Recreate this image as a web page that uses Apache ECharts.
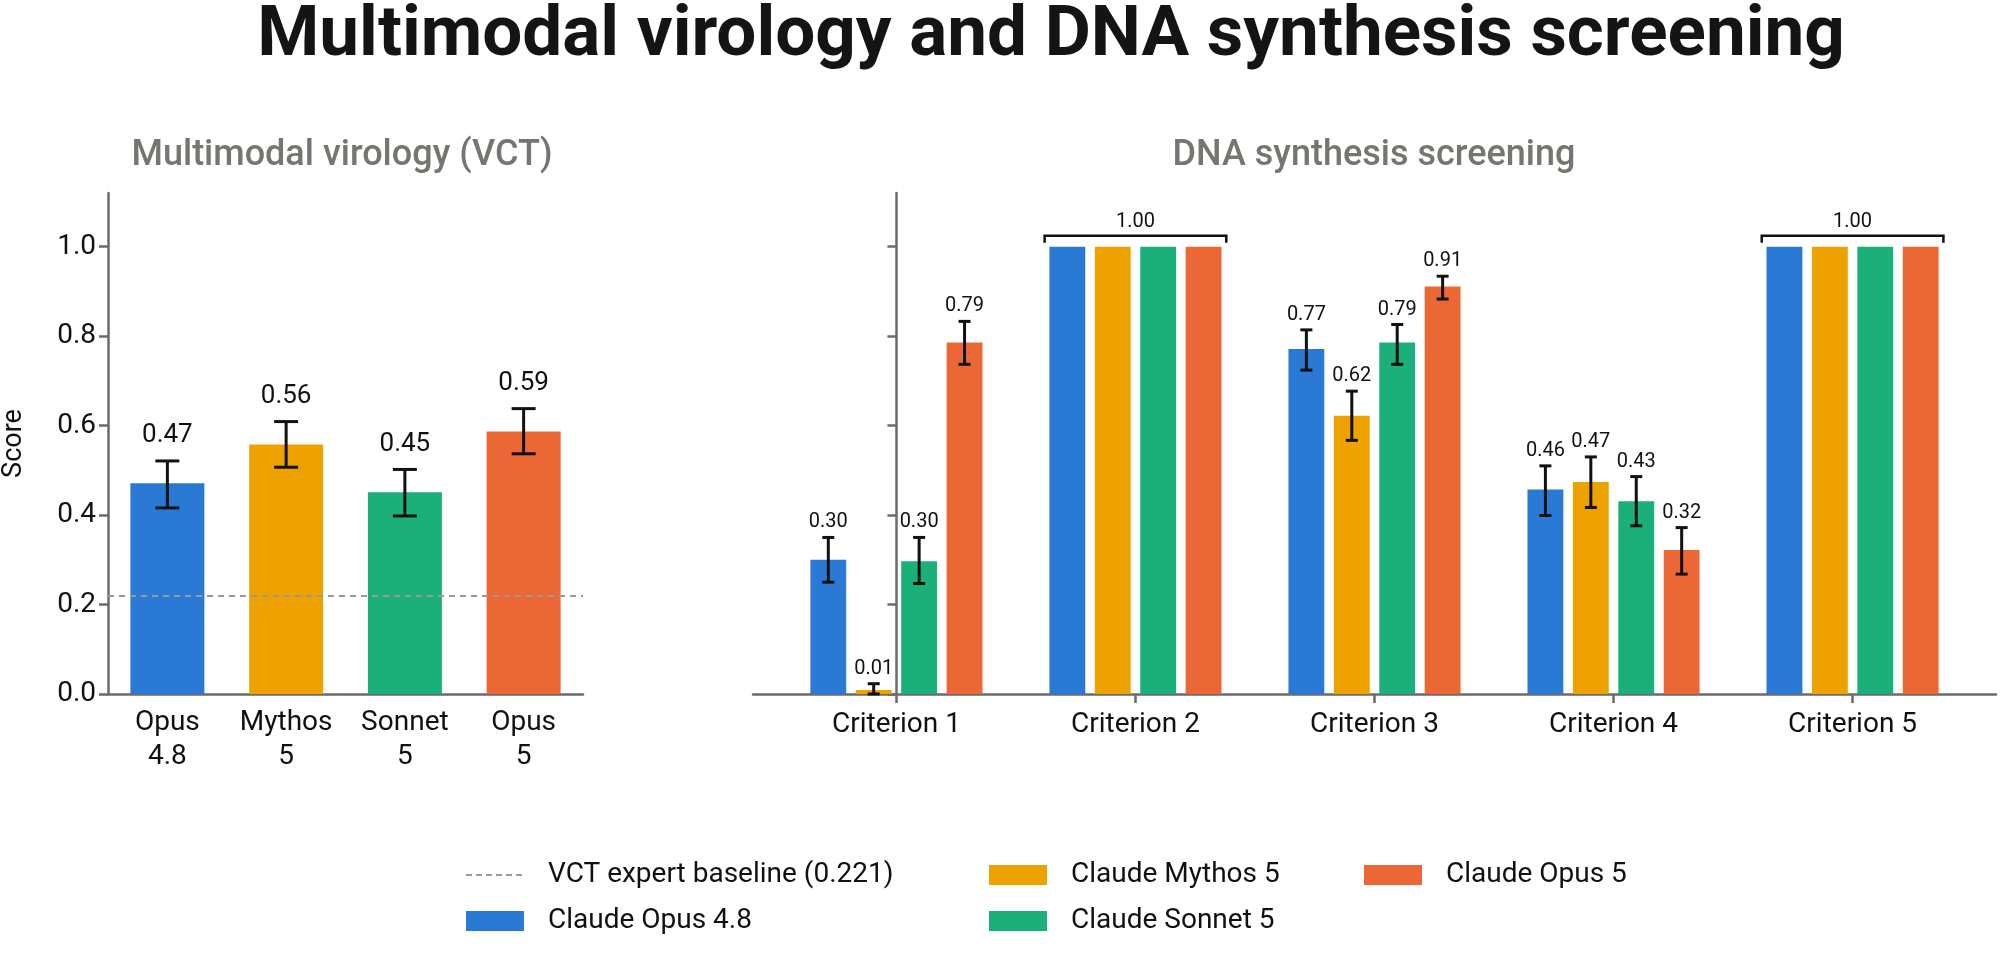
<!DOCTYPE html>
<html>
<head>
<meta charset="utf-8">
<title>Multimodal virology and DNA synthesis screening</title>
<script src="https://cdn.jsdelivr.net/npm/echarts@6/dist/echarts.min.js"></script>
<style>
  html, body { margin: 0; padding: 0; background: #fff; }
  #chart { width: 2000px; height: 957px; }
</style>
</head>
<body>
<div id="chart"></div>
<script>
// ---- data ----
var models = ['Claude Opus 4.8', 'Claude Mythos 5', 'Claude Sonnet 5', 'Claude Opus 5'];
var modelColors = ['#2a7ad5', '#eea200', '#1bb07a', '#eb6836'];
var baselineName = 'VCT expert baseline (0.221)';
var vctBaseline = 0.221;

// left panel: multimodal virology (VCT)
var vctLabels = ['Opus\n4.8', 'Mythos\n5', 'Sonnet\n5', 'Opus\n5'];
var vctScore = [0.471, 0.558, 0.451, 0.587];
var vctLow = [0.416, 0.507, 0.398, 0.537];
var vctHigh = [0.521, 0.609, 0.502, 0.638];

// right panel: DNA synthesis screening (one array per model, across criteria)
var criteria = ['Criterion 1', 'Criterion 2', 'Criterion 3', 'Criterion 4', 'Criterion 5'];
var dnaScore = [
  [0.300, 1.00, 0.771, 0.457, 1.00],
  [0.009, 1.00, 0.622, 0.474, 1.00],
  [0.297, 1.00, 0.786, 0.431, 1.00],
  [0.786, 1.00, 0.911, 0.322, 1.00]
];
var dnaLow = [
  [0.250, null, 0.724, 0.399, null],
  [0.000, null, 0.567, 0.417, null],
  [0.247, null, 0.737, 0.376, null],
  [0.737, null, 0.883, 0.268, null]
];
var dnaHigh = [
  [0.350, null, 0.814, 0.510, null],
  [0.023, null, 0.677, 0.530, null],
  [0.350, null, 0.826, 0.486, null],
  [0.833, null, 0.934, 0.372, null]
];
// criteria where every model scores 1.00 get one bracket label
var bracketCriteria = [1, 4];

var yTicks = [0, 0.2, 0.4, 0.6, 0.8, 1.0];
var critTicks = [0, 1, 2, 3, 4];

// ---- layout ----
var FONT = 'Roboto';
var AXIS_COLOR = '#6b6b6b';
var BAR_W = 0.15, PITCH = 0.19;   // right panel, in axis units

var chart = echarts.init(document.getElementById('chart'));

var axisLineStyle = { lineStyle: { color: AXIS_COLOR, width: 2.5 } };
var axisTickStyle = { length: 9, lineStyle: { color: AXIS_COLOR, width: 2.5 } };

function groupOffset(s) { return (s - 1.5) * PITCH; }

var series = [];

// dashed baseline (left)
series.push({
  name: baselineName,
  type: 'line',
  xAxisIndex: 0, yAxisIndex: 0,
  data: [],
  symbol: 'none',
  z: 1,
  lineStyle: { type: [6, 4], color: '#999999', width: 2 },
  itemStyle: { color: '#999999' },
  markLine: {
    silent: true,
    symbol: ['none', 'none'],
    label: { show: false },
    lineStyle: { type: [6, 5], color: '#999999', width: 2 },
    data: [{ yAxis: vctBaseline }]
  }
});

// left bars, one series per model so legend colours match
models.forEach(function (m, s) {
  series.push({
    name: m,
    type: 'bar',
    xAxisIndex: 0, yAxisIndex: 0,
    barWidth: 74,
    barGap: '-100%',
    z: 2,
    itemStyle: { color: modelColors[s] },
    data: vctLabels.map(function (_, i) { return i === s ? vctScore[s] : '-'; })
  });
});

// left error bars + value labels
series.push({
  type: 'custom',
  xAxisIndex: 0, yAxisIndex: 0,
  z: 5,
  silent: true,
  data: vctScore.map(function (v, i) { return [i, vctLow[i], vctHigh[i], v]; }),
  renderItem: function (params, api) {
    var top = api.coord([api.value(0), api.value(2)]);
    var bot = api.coord([api.value(0), api.value(1)]);
    var x = top[0], cap = 12;
    var ls = { stroke: '#111', lineWidth: 3 };
    return {
      type: 'group',
      children: [
        { type: 'line', shape: { x1: x, y1: top[1], x2: x, y2: bot[1] }, style: ls },
        { type: 'line', shape: { x1: x - cap, y1: top[1], x2: x + cap, y2: top[1] }, style: ls },
        { type: 'line', shape: { x1: x - cap, y1: bot[1], x2: x + cap, y2: bot[1] }, style: ls },
        { type: 'text', x: x, y: top[1] - 12,
          style: { text: api.value(3).toFixed(2), fill: '#111', font: '26px ' + FONT,
                   align: 'center', verticalAlign: 'bottom' } }
      ]
    };
  }
});

// right bars
models.forEach(function (m, s) {
  series.push({
    name: m,
    type: 'custom',
    xAxisIndex: 1, yAxisIndex: 1,
    z: 2,
    itemStyle: { color: modelColors[s] },
    data: dnaScore[s].map(function (v, i) { return [i, v]; }),
    renderItem: function (params, api) {
      var x = api.value(0) + groupOffset(s);
      var p0 = api.coord([x - BAR_W / 2, api.value(1)]);
      var p1 = api.coord([x + BAR_W / 2, 0]);
      return {
        type: 'rect',
        shape: { x: p0[0], y: p0[1], width: p1[0] - p0[0], height: p1[1] - p0[1] },
        style: { fill: api.visual('color') }
      };
    }
  });
});

// right error bars + value labels
var dnaErr = [];
models.forEach(function (m, s) {
  dnaScore[s].forEach(function (v, i) {
    if (dnaLow[s][i] !== null) dnaErr.push([i, s, dnaLow[s][i], dnaHigh[s][i], v]);
  });
});
series.push({
  type: 'custom',
  xAxisIndex: 1, yAxisIndex: 1,
  z: 5,
  silent: true,
  data: dnaErr,
  renderItem: function (params, api) {
    var xv = api.value(0) + groupOffset(api.value(1));
    var top = api.coord([xv, api.value(3)]);
    var bot = api.coord([xv, api.value(2)]);
    var x = top[0], cap = 6;
    var ls = { stroke: '#111', lineWidth: 3 };
    return {
      type: 'group',
      children: [
        { type: 'line', shape: { x1: x, y1: top[1], x2: x, y2: bot[1] }, style: ls },
        { type: 'line', shape: { x1: x - cap, y1: top[1], x2: x + cap, y2: top[1] }, style: ls },
        { type: 'line', shape: { x1: x - cap, y1: bot[1], x2: x + cap, y2: bot[1] }, style: ls },
        { type: 'text', x: x, y: top[1] - 5,
          style: { text: api.value(4).toFixed(2), fill: '#111', font: '20px ' + FONT,
                   align: 'center', verticalAlign: 'bottom' } }
      ]
    };
  }
});

// brackets over all-1.00 groups
series.push({
  type: 'custom',
  xAxisIndex: 1, yAxisIndex: 1,
  z: 5,
  silent: true,
  data: bracketCriteria.map(function (c) { return [c, dnaScore[0][c]]; }),
  renderItem: function (params, api) {
    var c = api.value(0), v = api.value(1);
    var l = api.coord([c - 0.38, v]);
    var r = api.coord([c + 0.38, v]);
    var y = l[1] - 11;
    return {
      type: 'group',
      children: [
        { type: 'polyline', shape: { points: [[l[0], y + 7], [l[0], y], [r[0], y], [r[0], y + 7]] },
          style: { stroke: '#111', lineWidth: 2.5, fill: null } },
        { type: 'text', x: (l[0] + r[0]) / 2, y: y - 4,
          style: { text: v.toFixed(2), fill: '#111', font: '20px ' + FONT,
                   align: 'center', verticalAlign: 'bottom' } }
      ]
    };
  }
});

var legendBase = {
  orient: 'vertical',
  top: 856,
  itemWidth: 58,
  itemHeight: 20,
  itemGap: 18,
  selectedMode: false,
  textStyle: { fontFamily: FONT, fontSize: 28, color: '#111', padding: [0, 0, 0, 19] }
};

chart.setOption({
  animation: false,
  backgroundColor: '#ffffff',
  textStyle: { fontFamily: FONT },
  graphic: [
    { type: 'text', x: 1051, y: 37,
      style: { text: 'Multimodal virology and DNA synthesis screening', fill: '#141413',
               font: 'bold 71px ' + FONT, align: 'center', verticalAlign: 'middle' } },
    { type: 'text', x: 342, y: 156,
      style: { text: 'Multimodal virology (VCT)', fill: '#76756f',
               font: '500 36px ' + FONT, align: 'center', verticalAlign: 'middle' } },
    { type: 'text', x: 1374, y: 156,
      style: { text: 'DNA synthesis screening', fill: '#76756f',
               font: '500 36px ' + FONT, align: 'center', verticalAlign: 'middle' } }
  ],
  legend: [
    Object.assign({}, legendBase, { left: 460,
      data: [{ name: baselineName, itemStyle: { opacity: 0 } }, { name: models[0], icon: 'rect' }] }),
    Object.assign({}, legendBase, { left: 984,
      data: [{ name: models[1], icon: 'rect' }, { name: models[2], icon: 'rect' }] }),
    Object.assign({}, legendBase, { left: 1359,
      data: [{ name: models[3], icon: 'rect' }] })
  ],
  grid: [
    { left: 103, top: 193, width: 480, height: 501 },
    { left: 753, top: 193, width: 1243, height: 501 }
  ],
  xAxis: [
    {
      type: 'category', gridIndex: 0, data: vctLabels, boundaryGap: true,
      axisLine: axisLineStyle,
      axisTick: Object.assign({ alignWithLabel: true }, axisTickStyle),
      axisLabel: { color: '#111', fontSize: 28, fontFamily: FONT, margin: 12, lineHeight: 34,
                   interval: 0 }
    },
    {
      type: 'value', gridIndex: 1, min: -0.6, max: 4.6,
      splitLine: { show: false },
      axisLine: axisLineStyle,
      axisTick: Object.assign({ customValues: critTicks }, axisTickStyle),
      axisLabel: { color: '#111', fontSize: 28, fontFamily: FONT, margin: 14, lineHeight: 34,
                   customValues: critTicks,
                   formatter: function (v) { return criteria[Math.round(v)]; } }
    }
  ],
  yAxis: [
    {
      type: 'value', gridIndex: 0, min: 0, max: 1.12,
      name: 'Score', nameLocation: 'middle', nameGap: 80,
      nameTextStyle: { color: '#111', fontSize: 27, fontFamily: FONT },
      splitLine: { show: false },
      axisLine: Object.assign({ show: true }, axisLineStyle),
      axisTick: Object.assign({ show: true, customValues: yTicks }, axisTickStyle),
      axisLabel: { color: '#111', fontSize: 28, fontFamily: FONT, margin: 12,
                   customValues: yTicks,
                   formatter: function (v) { return v.toFixed(1); } }
    },
    {
      type: 'value', gridIndex: 1, min: 0, max: 1.12,
      splitLine: { show: false },
      axisLine: Object.assign({ show: true }, axisLineStyle),
      axisTick: Object.assign({ show: true, customValues: yTicks }, axisTickStyle),
      axisLabel: { show: false }
    }
  ],
  series: series
});
</script>
</body>
</html>
